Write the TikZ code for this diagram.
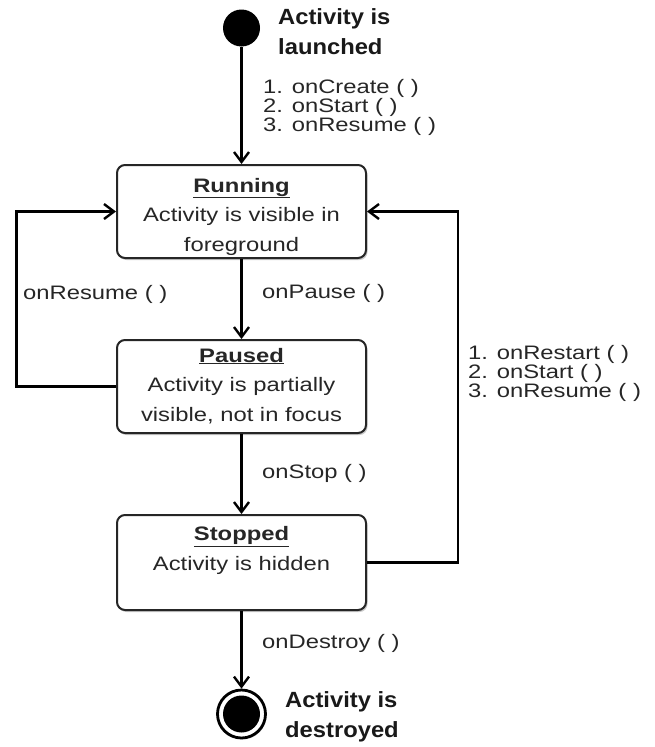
\documentclass[tikz,border=0pt]{standalone}
\usepackage{fontspec}
\setmainfont{Liberation Sans}[FakeStretch=1.22]
\newfontfamily\headfont{Liberation Sans}[FakeStretch=1.08]
\usetikzlibrary{arrows.meta,shadows}
\newcommand\ulbf[1]{\underline{\textbf{#1}}}
\begin{document}
\begin{tikzpicture}[x=1pt,y=-1pt,
  statebox/.style={draw=black!85, line width=2pt, rounded corners=8pt, fill=white,
    minimum width=249pt, minimum height=93pt, inner sep=0pt,
    drop shadow={shadow xshift=1.5pt, shadow yshift=-2pt, opacity=0.35, fill=black!60}},
  conn/.style={line width=2.6pt, -{Straight Barb[length=10pt,width=15pt,line width=2.4pt]}},
  lbl/.style={font=\fontsize{19.5}{19}\selectfont, text=black!85, inner sep=0pt, align=left, anchor=base west},
  boxtxt/.style={font=\fontsize{19.5}{29.5}\selectfont, text=black!85, inner sep=0pt, align=center, anchor=base},
  headtxt/.style={font=\headfont\bfseries\fontsize{22}{29.5}\selectfont, text=black!90, inner sep=0pt, align=left, anchor=base west}
]
\useasboundingbox (0,0) rectangle (654,747);
% states
\node[statebox] (running) at (241.5,211.5) {};
\node[statebox] (paused) at (241.5,386.5) {};
\node[statebox, minimum height=95pt] (stopped) at (241.5,562.5) {};
\node[circle, fill=black, minimum size=37pt, inner sep=0pt] (start) at (241.5,28) {};
\node[circle, draw=black, line width=2.8pt, fill=white, minimum size=48pt, inner sep=0pt,
  drop shadow={shadow xshift=1pt, shadow yshift=-1.5pt, opacity=0.3}] (end) at (241.5,714) {};
\node[circle, fill=black, minimum size=37pt, inner sep=0pt] (enddot) at (end) {};
% state texts (anchor = baseline of last line)
\node[boxtxt] (runningtxt) at (241.5,251) {\ulbf{Running}\\Activity is visible in\\foreground};
\node[boxtxt] (pausedtxt) at (241.5,421) {\ulbf{Paused}\\Activity is partially\\visible, not in focus};
\node[boxtxt] (stoppedtxt) at (241.5,570) {\ulbf{Stopped}\\Activity is hidden};
% connectors
\coordinate (ltop) at (16.5,211.5);
\coordinate (rtop) at (458,211.5);
\draw[conn] (start) -- (running);
\draw[conn] (running) -- (paused);
\draw[conn] (paused) -- (stopped);
\draw[conn] (stopped) -- (end);
\draw[conn] (paused.west) -| (ltop) -- (running.west);
\draw[conn] (stopped.east) -| (rtop) -- (running.east);
% labels
\node[lbl] (createlbl) at (263,131) {1. onCreate ( )\\2. onStart ( )\\3. onResume ( )};
\node[lbl] (pauselbl) at (262,298) {onPause ( )};
\node[lbl] (resumelbl) at (23,299) {onResume ( )};
\node[lbl] (stoplbl) at (262,478) {onStop ( )};
\node[lbl] (restartlbl) at (468,397) {1. onRestart ( )\\2. onStart ( )\\3. onResume ( )};
\node[lbl] (destroylbl) at (262,648) {onDestroy ( )};
\node[headtxt] (launched) at (278,54) {Activity is\\launched};
\node[headtxt] (destroyed) at (285,737) {Activity is\\destroyed};
\end{tikzpicture}
\end{document}
